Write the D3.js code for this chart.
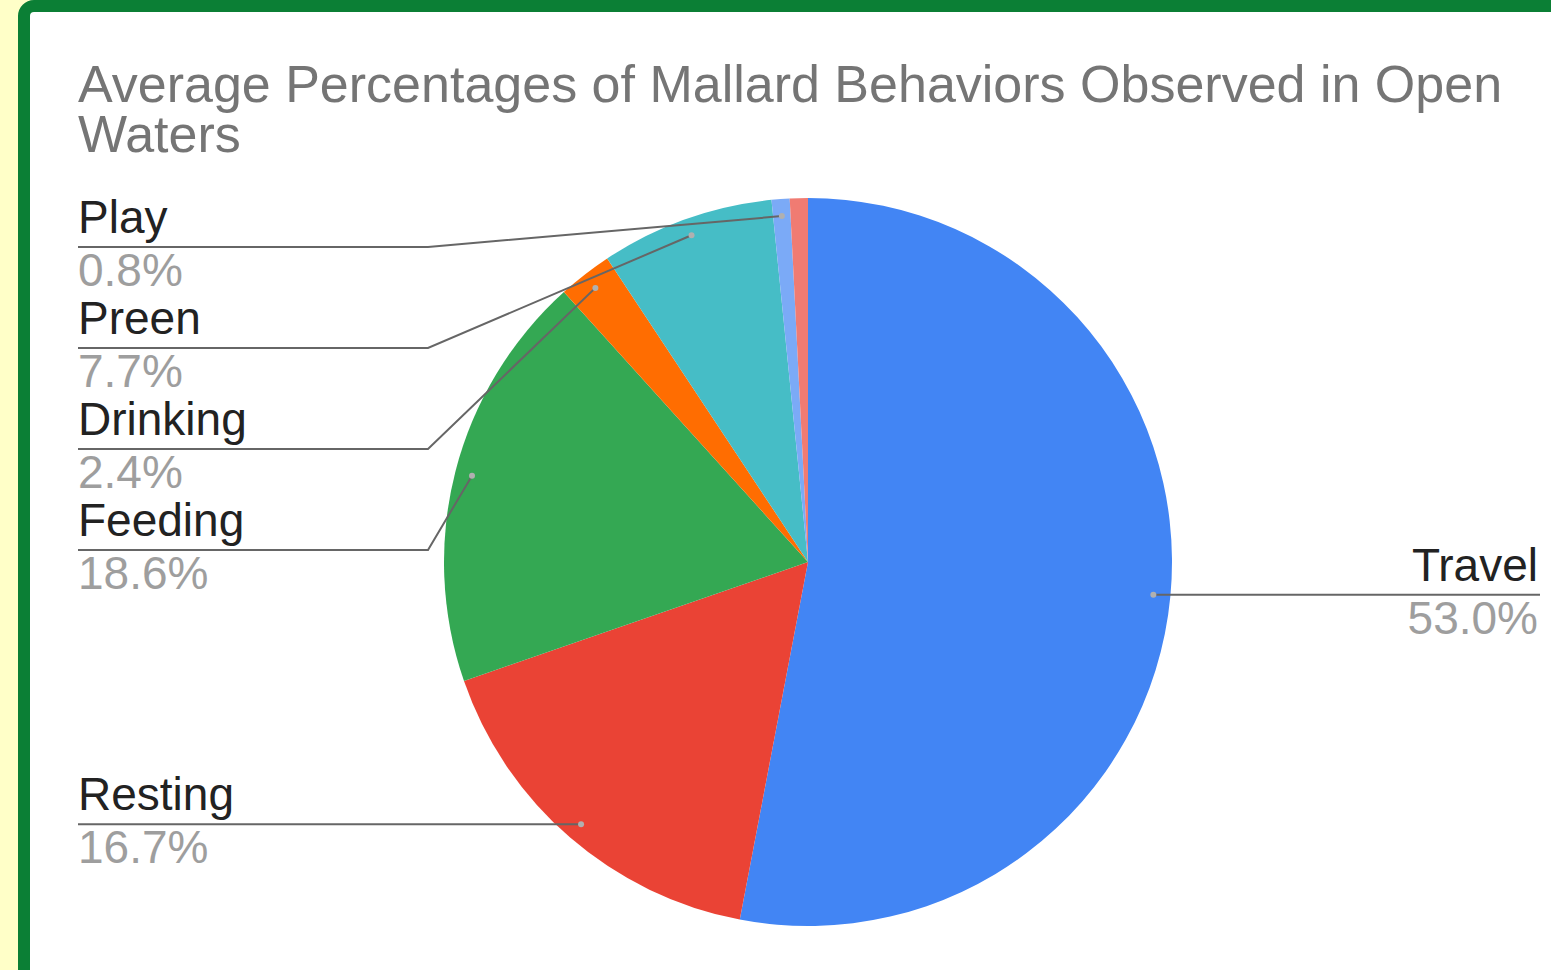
<!DOCTYPE html>
<html lang="en">
<head>
  <meta charset="utf-8">
  <title>Average Percentages of Mallard Behaviors Observed in Open Waters</title>
  <script src="https://d3js.org/d3.v7.min.js"></script>
  <style>
    html, body { margin: 0; padding: 0; background: #ffffc8; }
    svg { display: block; }
    text { font-family: "Liberation Sans", Arial, sans-serif; }
    .leader { fill: none; stroke: #666; stroke-width: 2px; }
    .name { fill: #222; font-size: 46px; }
    .value { fill: #9e9e9e; font-size: 46px; }
    .title { fill: #757575; font-size: 52px; }
  </style>
</head>
<body>
  <svg></svg>
  <script>
    // slices in drawing order (clockwise from 12 o'clock)
    const behaviors = ["Travel", "Resting", "Feeding", "Drinking", "Preen", "Play", "Other"];
    const percents  = [53.0, 16.7, 18.6, 2.4, 7.7, 0.8, 0.8];
    const colors    = ["#4285f4", "#ea4335", "#34a853", "#ff6d01", "#46bdc6", "#7baaf7", "#f07b72"];
    const labelled  = [true, true, true, true, true, true, false];
    const titleLines = ["Average Percentages of Mallard Behaviors Observed in Open", "Waters"];

    const width = 1551, height = 970;
    const cx = 808, cy = 562, r = 364;

    const svg = d3.select("svg").attr("width", width).attr("height", height);

    // yellow page + green frame, cropped at right and bottom
    svg.append("rect").attr("width", width).attr("height", height).attr("fill", "#ffffc8");
    svg.append("rect")
      .attr("x", 24).attr("y", 6)
      .attr("width", width + 40).attr("height", height + 40)
      .attr("rx", 10)
      .attr("fill", "#fff")
      .attr("stroke", "#0b7f35")
      .attr("stroke-width", 12);

    svg.append("text")
      .attr("class", "title")
      .selectAll("tspan")
      .data(titleLines)
      .join("tspan")
        .attr("x", 78)
        .attr("y", (d, i) => 102 + i * 50)
        .text(d => d);

    const data = behaviors.map((name, i) => ({ name, value: percents[i], color: colors[i], show: labelled[i] }));

    const pie = d3.pie().sort(null).value(d => d.value);
    const arcs = pie(data);
    const arc = d3.arc().innerRadius(0).outerRadius(r);

    const g = svg.append("g").attr("transform", `translate(${cx},${cy})`);
    g.selectAll("path")
      .data(arcs)
      .join("path")
        .attr("d", arc)
        .attr("fill", d => d.data.color);

    // anchor dot for every labelled slice
    const dotR = r * 0.953;
    const labels = arcs.filter(d => d.data.show).map(d => {
      const a = (d.startAngle + d.endAngle) / 2;
      return {
        name: d.data.name,
        value: d.data.value,
        x: cx + dotR * Math.sin(a),
        y: cy - dotR * Math.cos(a),
        side: a < Math.PI ? "right" : "left"
      };
    });

    // stack the left labels top-down so they do not overlap
    const gap = 101, minY = 247;
    const left = labels.filter(d => d.side === "left").sort((a, b) => a.y - b.y);
    let prev = minY - gap;
    left.forEach(d => { d.ly = Math.max(d.y, prev + gap, minY); prev = d.ly; });
    labels.filter(d => d.side === "right").forEach(d => { d.ly = d.y; });

    const leftX = 78, rightX = 1540, bendX = cx - r - 16;
    const line = d3.line();

    const lab = svg.append("g").selectAll("g").data(labels).join("g");

    lab.append("path")
      .attr("class", "leader")
      .attr("d", d => d.side === "left"
        ? line([[d.x, d.y], [bendX, d.ly], [leftX, d.ly]])
        : line([[d.x, d.y], [rightX, d.ly]]));

    lab.append("circle")
      .attr("cx", d => d.x).attr("cy", d => d.y)
      .attr("r", 3)
      .attr("fill", "#b0b0b0");

    lab.append("text")
      .attr("class", "name")
      .attr("x", d => d.side === "left" ? leftX : rightX - 2)
      .attr("y", d => d.ly - 14)
      .attr("text-anchor", d => d.side === "left" ? "start" : "end")
      .text(d => d.name);

    lab.append("text")
      .attr("class", "value")
      .attr("x", d => d.side === "left" ? leftX : rightX - 2)
      .attr("y", d => d.ly + 39)
      .attr("text-anchor", d => d.side === "left" ? "start" : "end")
      .text(d => d3.format(".1f")(d.value) + "%");
  </script>
</body>
</html>
